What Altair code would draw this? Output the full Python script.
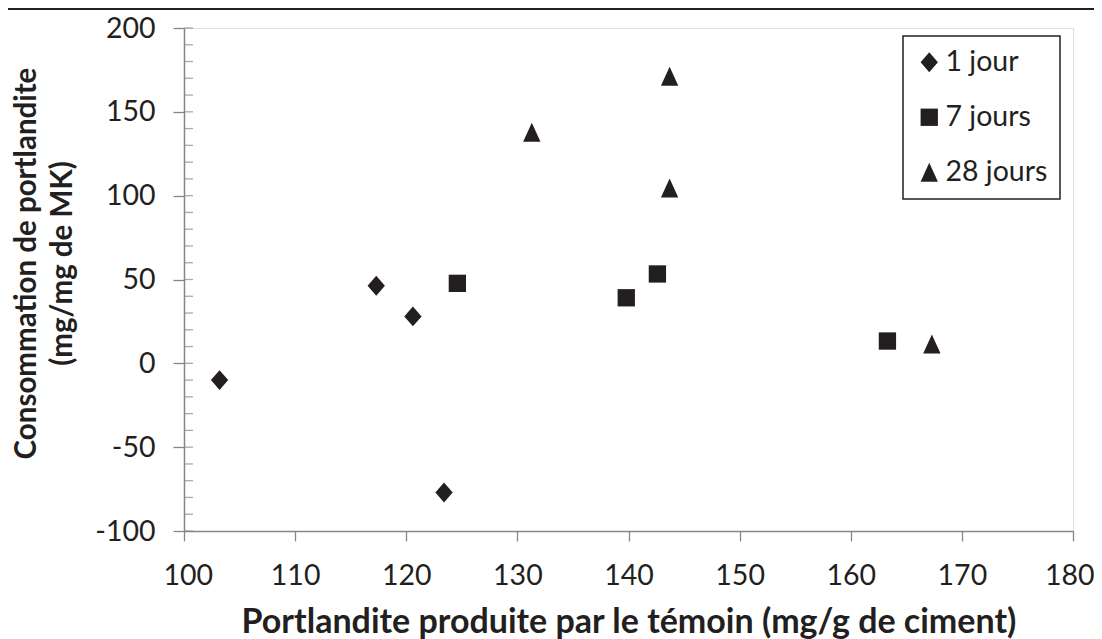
import altair as alt
import pandas as pd

# ---- data ----
series_names = ["1 jour", "7 jours", "28 jours"]
x_1jour = [103.2, 117.3, 120.6, 123.4]
y_1jour = [-10.0, 46.3, 28.0, -77.0]
x_7jours = [124.6, 139.8, 142.6, 163.3]
y_7jours = [47.7, 39.1, 53.3, 13.3]
x_28jours = [131.3, 143.7, 143.7, 167.3]
y_28jours = [137.8, 171.2, 104.6, 11.5]

x_ticks = [100, 110, 120, 130, 140, 150, 160, 170, 180]
y_ticks = [-100, -50, 0, 50, 100, 150, 200]
y_minor_ticks = list(range(-100, 201, 10))

x_title = "Portlandite produite par le témoin (mg/g de ciment)"
y_title = ["Consommation de portlandite", "(mg/mg de MK)"]

rows = []
for name, xs, ys in [(series_names[0], x_1jour, y_1jour),
                     (series_names[1], x_7jours, y_7jours),
                     (series_names[2], x_28jours, y_28jours)]:
    for xv, yv in zip(xs, ys):
        rows.append({"serie": name, "x": xv, "y": yv})
df = pd.DataFrame(rows)
minor_df = pd.DataFrame({"y": y_minor_ticks})

INK = "#231f20"
GREY = "#868686"
FONT = "Lato"

xscale = alt.Scale(domain=[100, 180], nice=False, zero=False)
yscale = alt.Scale(domain=[-100, 200], nice=False, zero=False)

shapes = ["M0,-1.15L1,0L0,1.15L-1,0Z", "square", "M0,-1.1L1,1.1L-1,1.1Z"]

points = alt.Chart(df).mark_point(filled=True, size=300, color=INK, opacity=1, strokeWidth=0).encode(
    x=alt.X("x:Q", scale=xscale,
            axis=alt.Axis(values=x_ticks, title=x_title, grid=False,
                          labelFlush=True, labelFlushOffset=21,
                          domainColor=GREY, domainWidth=1.5, tickColor=GREY, tickWidth=1.3,
                          tickSize=10, labelPadding=20, labelFont=FONT, labelFontSize=28.5,
                          labelColor=INK, titleFont=FONT, titleFontSize=34, titleFontWeight="bold",
                          titleColor=INK, titleY=101, titleBaseline="alphabetic")),
    y=alt.Y("y:Q", scale=yscale,
            axis=alt.Axis(values=y_ticks, title=y_title, grid=False, labelFlush=False,
                          labelExpr="datum.value + ''",
                          domainColor=GREY, domainWidth=1.5, tickColor=GREY, tickWidth=1.3,
                          tickSize=11, labelPadding=18, labelFont=FONT, labelFontSize=28.5,
                          labelColor=INK, titleFont=FONT, titleFontSize=29.5, titleFontWeight="bold",
                          titleColor=INK, titleAngle=270, titleX=-149, titleY=235,
                          titleAlign="center", titleBaseline="alphabetic", titleLineHeight=36)),
    shape=alt.Shape("serie:N", sort=series_names,
                    scale=alt.Scale(domain=series_names, range=shapes),
                    legend=alt.Legend(title=None, orient="none", legendX=719, legendY=8,
                                      strokeColor=INK, fillColor="white",
                                      padding=12, symbolSize=300, symbolFillColor=INK,
                                      symbolStrokeWidth=0, labelFont=FONT, labelFontSize=28.5,
                                      labelColor=INK, labelOffset=2, rowPadding=26)),
)

minor = alt.Chart(minor_df).mark_tick(orient="horizontal", color=GREY, thickness=1.3, size=9,
                                      xOffset=4.5).encode(
    x=alt.datum(100, scale=xscale),
    y=alt.Y("y:Q", scale=yscale),
)

top_line = alt.Chart(minor_df).mark_rule(color=INK, strokeWidth=2).encode(
    x=alt.value(-176), x2=alt.value(918), y=alt.value(-19)
)

chart = alt.layer(minor, points, top_line).properties(
    width=889, height=503,
    autosize=alt.AutoSizeParams(type="none"),
    padding={"left": 176, "top": 20, "right": 21, "bottom": 108},
).configure_view(stroke=None).configure(background="white").configure_legend(strokeWidth=1.5)

chart.save("out.html", embed_options={"renderer": "svg", "actions": False})
